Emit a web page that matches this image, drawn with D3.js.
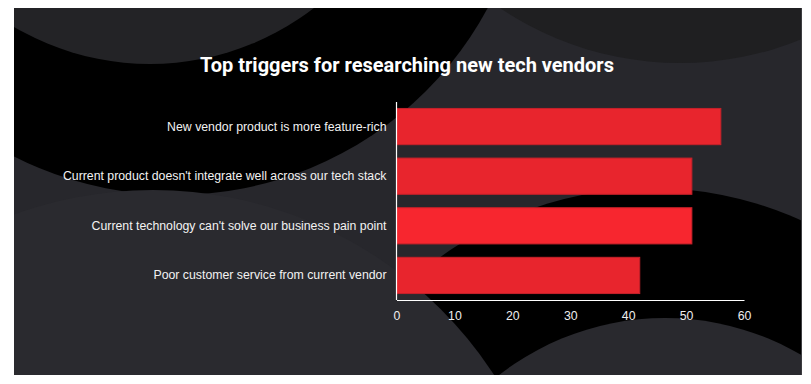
<!DOCTYPE html>
<html>
<head>
<meta charset="utf-8">
<script src="https://cdn.jsdelivr.net/npm/d3@7"></script>
<style>
  html, body { margin: 0; padding: 0; background: #ffffff; }
  svg { display: block; }
</style>
</head>
<body>
<div id="chart"></div>
<script>
// ---- data ----
const title = "Top triggers for researching new tech vendors";
const categories = [
  "New vendor product is more feature-rich",
  "Current product doesn't integrate well across our tech stack",
  "Current technology can't solve our business pain point",
  "Poor customer service from current vendor"
];
const values = [56, 51, 51, 42];
const barColors = ["#e8252d", "#e8252d", "#f7262f", "#e8252d"];
const xTicks = [0, 10, 20, 30, 40, 50, 60];
const xDomain = [0, 60];

// ---- layout ----
const W = 811, H = 384;
const panel = { x: 14, y: 8, w: 788, h: 367 };
const plot = { left: 396.5, right: 744, top: 102, bottom: 300 };

const svg = d3.select("#chart").append("svg")
  .attr("width", W).attr("height", H);

// background panel with decorative circles
const defs = svg.append("defs");
defs.append("clipPath").attr("id", "panelClip")
  .append("rect").attr("x", panel.x).attr("y", panel.y)
  .attr("width", panel.w).attr("height", panel.h);

const bg = svg.append("g").attr("clip-path", "url(#panelClip)");
bg.append("rect").attr("x", panel.x).attr("y", panel.y)
  .attr("width", panel.w).attr("height", panel.h).attr("fill", "#27272c");

const decor = [
  { cx: 175, cy: -160, r: 355, fill: "#000000" },
  { cx: 150, cy: -204, r: 268, fill: "#232326" },
  { cx: 680, cy: -259, r: 322, fill: "#1f1f21" },
  { cx: 652, cy: 547, r: 359, fill: "#000000" },
  { cx: 153, cy: 597, r: 407, fill: "#2a2a2f" },
  { cx: 665, cy: 588, r: 270, fill: "#29292e" }
];
bg.selectAll("circle.decor").data(decor).join("circle")
  .attr("class", "decor")
  .attr("cx", d => d.cx).attr("cy", d => d.cy).attr("r", d => d.r)
  .attr("fill", d => d.fill);

svg.append("line")
  .attr("x1", panel.x + panel.w - 0.5).attr("x2", panel.x + panel.w - 0.5)
  .attr("y1", panel.y).attr("y2", panel.y + panel.h)
  .attr("stroke", "#3d3d40").attr("stroke-width", 1);

// title
svg.append("text")
  .attr("x", 407).attr("y", 72)
  .attr("text-anchor", "middle")
  .attr("font-family", "Roboto, sans-serif")
  .attr("font-weight", 700)
  .attr("font-size", 20)
  .attr("fill", "#ffffff")
  .text(title);

// scales
const x = d3.scaleLinear().domain(xDomain).range([plot.left, plot.right]);
const y = d3.scaleBand().domain(categories).range([plot.top, plot.bottom])
  .paddingInner(0.27).paddingOuter(0.13);

// bars
svg.append("g").selectAll("rect").data(categories).join("rect")
  .attr("x", x(0))
  .attr("y", d => y(d))
  .attr("width", (d, i) => x(values[i]) - x(0))
  .attr("height", y.bandwidth())
  .attr("fill", (d, i) => barColors[i])
  .attr("stroke", "#c5212a")
  .attr("stroke-width", 1);

// y axis (labels + line)
const yAxis = svg.append("g")
  .attr("transform", `translate(${plot.left},0)`)
  .call(d3.axisLeft(y).tickSize(0).tickPadding(10));
yAxis.select(".domain").remove();
yAxis.selectAll("text")
  .attr("font-family", "'Liberation Sans', Arial, sans-serif")
  .attr("font-size", 12.3)
  .attr("fill", "#f2f2f2");

svg.append("line")
  .attr("x1", plot.left).attr("x2", plot.left)
  .attr("y1", plot.top).attr("y2", plot.bottom)
  .attr("stroke", "#ffffff").attr("stroke-width", 1.2);

// x axis
const xAxis = svg.append("g")
  .attr("transform", `translate(0,${plot.bottom})`)
  .call(d3.axisBottom(x).tickValues(xTicks).tickSize(0).tickPadding(11));
xAxis.select(".domain")
  .attr("stroke", "#ffffff").attr("stroke-width", 1.2);
xAxis.selectAll("text")
  .attr("font-family", "'Liberation Sans', Arial, sans-serif")
  .attr("font-size", 12.3)
  .attr("fill", "#eeeeee");
</script>
</body>
</html>
